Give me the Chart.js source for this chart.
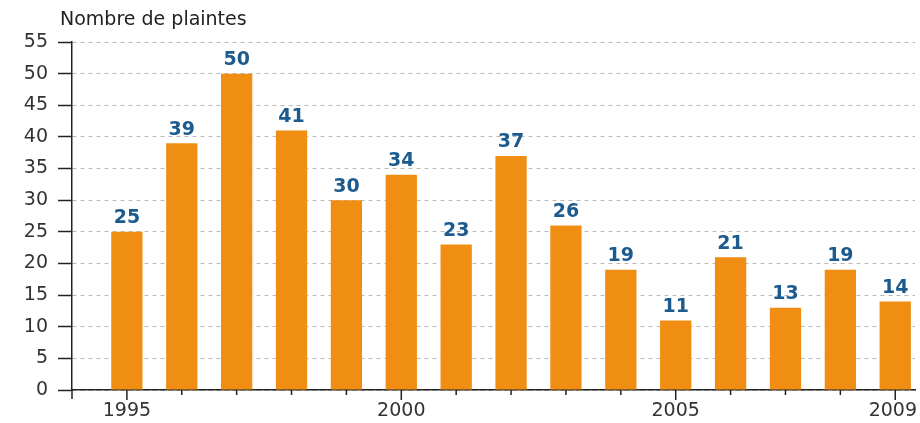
<!DOCTYPE html>
<html>
<head>
<meta charset="utf-8">
<script src="https://cdn.jsdelivr.net/npm/chart.js@4.4.1/dist/chart.umd.min.js"></script>
<style>
html,body{margin:0;padding:0;background:#fff;}
#wrap{width:920px;height:423px;position:relative;}
</style>
</head>
<body>
<div id="wrap"><canvas id="c"></canvas></div>
<script>
const years = [1995,1996,1997,1998,1999,2000,2001,2002,2003,2004,2005,2006,2007,2008,2009];
const complaints = [25,39,50,41,30,34,23,37,26,19,11,21,13,19,14];
const labeledYears = [1995,2000,2005,2009];
const yTicks = [0,5,10,15,20,25,30,35,40,45,50,55];
const axisTitle = 'Nombre de plaintes';

const FONT = 'DejaVu Sans';

const decorPlugin = {
  id: 'decor',
  afterDraw(chart) {
    const ctx = chart.ctx;
    const xs = chart.scales.x;
    const ca = chart.chartArea;
    ctx.save();
    ctx.strokeStyle = '#222';
    ctx.lineWidth = 1.5;
    years.forEach(y => {
      const px = xs.getPixelForValue(y);
      const len = labeledYears.includes(y) ? 10 : 5;
      ctx.beginPath();
      ctx.moveTo(px, ca.bottom);
      ctx.lineTo(px, ca.bottom + len);
      ctx.stroke();
    });
    ctx.beginPath();
    ctx.moveTo(ca.left, ca.bottom);
    ctx.lineTo(ca.left, ca.bottom + 9);
    ctx.stroke();
    // x labels (last one kept inside the canvas)
    ctx.fillStyle = '#333';
    ctx.font = '19px "' + FONT + '"';
    ctx.textBaseline = 'middle';
    labeledYears.forEach(y => {
      const px = xs.getPixelForValue(y);
      const txt = String(y);
      const w = ctx.measureText(txt).width;
      let left = px - w / 2;
      if (left + w > chart.width - 3) left = chart.width - 3 - w;
      ctx.textAlign = 'left';
      ctx.fillText(txt, left, ca.bottom + 21);
    });
    const meta = chart.getDatasetMeta(0);
    ctx.fillStyle = '#1d5b8e';
    ctx.font = 'bold 19px "' + FONT + '"';
    ctx.textAlign = 'center';
    ctx.textBaseline = 'bottom';
    meta.data.forEach((el, i) => {
      ctx.fillText(String(complaints[i]), el.x, el.y - 4);
    });
    ctx.fillStyle = '#222';
    ctx.font = '19px "' + FONT + '"';
    ctx.textAlign = 'left';
    ctx.textBaseline = 'alphabetic';
    ctx.fillText(axisTitle, ca.left - 12, 25);
    ctx.restore();
  }
};

new Chart(document.getElementById('c'), {
  type: 'bar',
  data: {
    datasets: [{
      data: years.map((y, i) => ({x: y, y: complaints[i]})),
      backgroundColor: '#ef8e12',
      borderWidth: 0,
      barPercentage: 0.57,
      categoryPercentage: 1.0
    }]
  },
  options: {
    responsive: true,
    maintainAspectRatio: false,
    animation: false,
    layout: {padding: {top: 42, right: 5, left: 0, bottom: 0}},
    plugins: {legend: {display: false}, tooltip: {enabled: false}},
    scales: {
      x: {
        type: 'linear',
        offset: false,
        min: 1994,
        max: 2009.36,
        afterBuildTicks(scale) {
          scale.ticks = labeledYears.map(v => ({value: v}));
        },
        afterFit(scale) { scale.height = 33; scale.paddingRight = 0; scale.paddingLeft = 0; },
        grid: {display: false, drawTicks: false},
        border: {display: true, color: '#222', width: 1.5},
        ticks: {display: false}
      },
      y: {
        min: 0,
        max: 55,
        afterBuildTicks(scale) {
          scale.ticks = yTicks.map(v => ({value: v}));
        },
        afterFit(scale) { scale.width = 72; },
        grid: {
          color: '#b8b8b8',
          lineWidth: 1,
          drawTicks: true,
          tickLength: 14,
          tickColor: '#222',
          tickWidth: 1.5,
          tickBorderDash: []
        },
        border: {display: true, color: '#222', width: 1.5, dash: [4, 4]},
        ticks: {
          padding: 10,
          color: '#333',
          font: {family: FONT, size: 19}
        }
      }
    }
  },
  plugins: [decorPlugin]
});
</script>
</body>
</html>
